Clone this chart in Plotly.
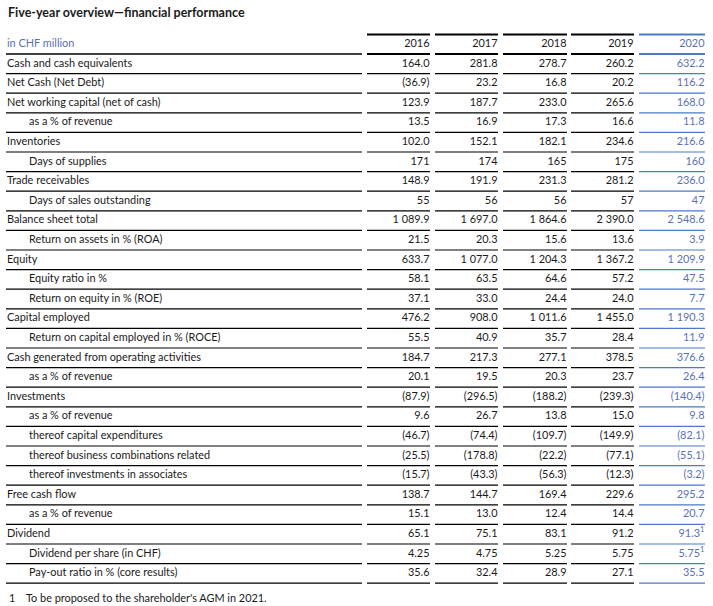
import plotly.graph_objects as go

title = "Five-year overview—financial performance"
unit_label = "in CHF million"
years = ["2016", "2017", "2018", "2019", "2020"]

labels = [
    "Cash and cash equivalents", "Net Cash (Net Debt)", "Net working capital (net of cash)",
    "as a % of revenue", "Inventories", "Days of supplies", "Trade receivables",
    "Days of sales outstanding", "Balance sheet total", "Return on assets in % (ROA)",
    "Equity", "Equity ratio in %", "Return on equity in % (ROE)", "Capital employed",
    "Return on capital employed in % (ROCE)", "Cash generated from operating activities",
    "as a % of revenue", "Investments", "as a % of revenue", "thereof capital expenditures",
    "thereof business combinations related", "thereof investments in associates",
    "Free cash flow", "as a % of revenue", "Dividend", "Dividend per share (in CHF)",
    "Pay-out ratio in % (core results)",
]
indented = [False, False, False, True, False, True, False, True, False, True,
            False, True, True, False, True, False, True, False, True, True,
            True, True, False, True, False, True, True]

v2016 = ["164.0", "(36.9)", "123.9", "13.5", "102.0", "171", "148.9", "55", "1 089.9", "21.5",
         "633.7", "58.1", "37.1", "476.2", "55.5", "184.7", "20.1", "(87.9)", "9.6", "(46.7)",
         "(25.5)", "(15.7)", "138.7", "15.1", "65.1", "4.25", "35.6"]
v2017 = ["281.8", "23.2", "187.7", "16.9", "152.1", "174", "191.9", "56", "1 697.0", "20.3",
         "1 077.0", "63.5", "33.0", "908.0", "40.9", "217.3", "19.5", "(296.5)", "26.7", "(74.4)",
         "(178.8)", "(43.3)", "144.7", "13.0", "75.1", "4.75", "32.4"]
v2018 = ["278.7", "16.8", "233.0", "17.3", "182.1", "165", "231.3", "56", "1 864.6", "15.6",
         "1 204.3", "64.6", "24.4", "1 011.6", "35.7", "277.1", "20.3", "(188.2)", "13.8", "(109.7)",
         "(22.2)", "(56.3)", "169.4", "12.4", "83.1", "5.25", "28.9"]
v2019 = ["260.2", "20.2", "265.6", "16.6", "234.6", "175", "281.2", "57", "2 390.0", "13.6",
         "1 367.2", "57.2", "24.0", "1 455.0", "28.4", "378.5", "23.7", "(239.3)", "15.0", "(149.9)",
         "(77.1)", "(12.3)", "229.6", "14.4", "91.2", "5.75", "27.1"]
v2020 = ["632.2", "116.2", "168.0", "11.8", "216.6", "160", "236.0", "47", "2 548.6", "3.9",
         "1 209.9", "47.5", "7.7", "1 190.3", "11.9", "376.6", "26.4", "(140.4)", "9.8", "(82.1)",
         "(55.1)", "(3.2)", "295.2", "20.7", "91.3<sup>1</sup>", "5.75<sup>1</sup>", "35.5"]
footnote_mark = "1"
footnote = "To be proposed to the shareholder's AGM in 2021."

values = [v2016, v2017, v2018, v2019, v2020]

# ---- layout geometry (page pixels) ----
W, H = 713, 606
FONT = "Lato"
FS = 10.9
DARK = "#1a1a1a"
BLUE_TXT = "#5a72b4"
BLUE_LINE = "#4a7bc4"
row_h = 19.6
header_bottom = 54.0
first_center = header_bottom + row_h / 2
label_x0, label_x1 = 6, 362
col_left = [367, 435, 503, 571, 639]
col_right = [430, 498, 567, 634, 705]

fig = go.Figure()
shapes = []

n = len(labels)
ys = [first_center + i * row_h for i in range(n)]

fig.add_trace(go.Scatter(
    x=[29 if ind else 7 for ind in indented], y=ys, text=labels, mode="text",
    textposition="middle right", textfont=dict(family=FONT, size=FS, color=DARK),
    hoverinfo="skip", showlegend=False, cliponaxis=False))

for j, col in enumerate(values):
    color = BLUE_TXT if j == 4 else DARK
    fig.add_trace(go.Scatter(
        x=[col_right[j] - 0.5] * n, y=ys, text=col, mode="text",
        textposition="middle left", textfont=dict(family=FONT, size=FS, color=color),
        hoverinfo="skip", showlegend=False, cliponaxis=False))

hdr_y = header_bottom - row_h / 2
fig.add_trace(go.Scatter(
    x=[7], y=[hdr_y], text=[unit_label], mode="text", textposition="middle right",
    textfont=dict(family=FONT, size=FS, color=BLUE_TXT), hoverinfo="skip",
    showlegend=False, cliponaxis=False))
fig.add_trace(go.Scatter(
    x=[r - 0.5 for r in col_right], y=[hdr_y] * 5, text=years, mode="text",
    textposition="middle left",
    textfont=dict(family=FONT, size=FS, color=[DARK] * 4 + [BLUE_TXT]),
    hoverinfo="skip", showlegend=False, cliponaxis=False))

def hline(x0, x1, y, color, w):
    shapes.append(dict(type="line", xref="x", yref="y", x0=x0, x1=x1, y0=y, y1=y,
                       line=dict(color=color, width=w)))

header_top = header_bottom - row_h
for j in range(5):
    c = BLUE_LINE if j == 4 else "#000000"
    hline(col_left[j], col_right[j], header_top, c, 2)
hline(label_x0, label_x1, header_bottom, "#000000", 1.6)
for j in range(5):
    c = BLUE_LINE if j == 4 else "#000000"
    hline(col_left[j], col_right[j], header_bottom, c, 1.8)
for i in range(n):
    yb = ys[i] + row_h / 2
    hline(label_x0, label_x1, yb, "#000000", 1.2)
    for j in range(5):
        c = BLUE_LINE if j == 4 else "#000000"
        hline(col_left[j], col_right[j], yb, c, 1.2)

fig.update_layout(
    width=W, height=H, margin=dict(l=0, r=0, t=0, b=0),
    paper_bgcolor="white", plot_bgcolor="white",
    xaxis=dict(range=[0, W], visible=False, fixedrange=True),
    yaxis=dict(range=[H, 0], visible=False, fixedrange=True),
    shapes=shapes,
    annotations=[
        dict(text=f"<b>{title}</b>", x=6, y=12, xref="x", yref="y", showarrow=False,
             xanchor="left", yanchor="middle", font=dict(family=FONT, size=12.5, color=DARK)),
        dict(text=footnote_mark, x=7, y=597, xref="x", yref="y", showarrow=False,
             xanchor="left", yanchor="middle", font=dict(family=FONT, size=FS, color=DARK)),
        dict(text=footnote, x=24, y=597, xref="x", yref="y", showarrow=False,
             xanchor="left", yanchor="middle", font=dict(family=FONT, size=FS, color=DARK)),
    ],
)

fig.write_html("out.html", config={"displayModeBar": False},
               post_script="document.body.style.margin='0';")
